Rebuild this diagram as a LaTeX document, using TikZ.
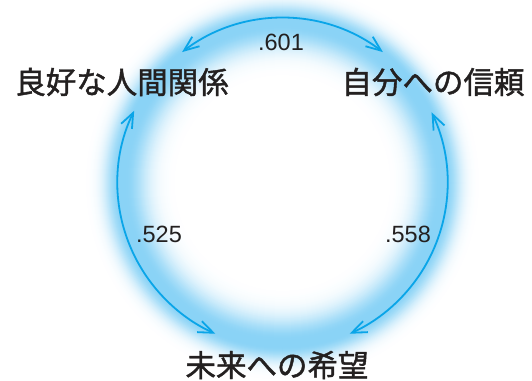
\documentclass[tikz,border=0pt]{standalone}
\usepackage{fontspec}
\newfontfamily\jpfont[FakeBold=1.4]{Noto Sans CJK JP}
\newfontfamily\numfont{Liberation Sans}
\usetikzlibrary{arrows.meta}
\definecolor{linec}{RGB}{10,165,232}
\definecolor{glowc}{RGB}{138,211,246}
\definecolor{txtc}{RGB}{35,32,32}
\begin{document}
\begin{tikzpicture}[x=1pt,y=1pt,
  lbl/.style={font=\jpfont\fontsize{30.5}{32}\selectfont, text=txtc, inner sep=0pt},
  num/.style={font=\numfont\fontsize{23.5}{26}\selectfont, text=txtc, inner sep=0pt},
  conn/.style={draw=linec, line width=1.8pt, {Straight Barb[length=15pt,width=12pt]}-{Straight Barb[length=15pt,width=12pt]}}]
\useasboundingbox (0,0) rectangle (532,380);
\fill[white] (0,0) rectangle (532,380);
\coordinate (C) at (282.5,197);
\foreach \r in {204,203,...,96}{
  \pgfmathsetmacro{\d}{\r<158 ? (\r-158)/23 : (\r>164 ? (\r-164)/15 : 0)}
  \pgfmathtruncatemacro{\p}{100*exp(-(\d)*(\d))}
  \fill[glowc!\p!white] (C) circle[radius=\r];
}
\node[lbl] (a) at (122,298) {良好な人間関係};
\node[lbl] (b) at (433,298) {自分への信頼};
\node[lbl] (c) at (277,15) {未来への希望};
\path (C) ++(127.5:165) coordinate (t1);
\path (C) ++(52.5:165) coordinate (t2);
\path (C) ++(154:165) coordinate (l1);
\path (C) ++(246:165) coordinate (l2);
\path (C) ++(25.4:165) coordinate (r1);
\path (C) ++(-66:165) coordinate (r2);
\draw[conn] (t1) arc[start angle=127.5, end angle=52.5, radius=165];
\draw[conn] (l1) arc[start angle=154, end angle=246, radius=165];
\draw[conn] (r1) arc[start angle=25.4, end angle=-66, radius=165];
\node[num] (n1) at (281,338) {.601};
\node[num] (n2) at (159,146) {.525};
\node[num] (n3) at (408,146) {.558};
\end{tikzpicture}
\end{document}
